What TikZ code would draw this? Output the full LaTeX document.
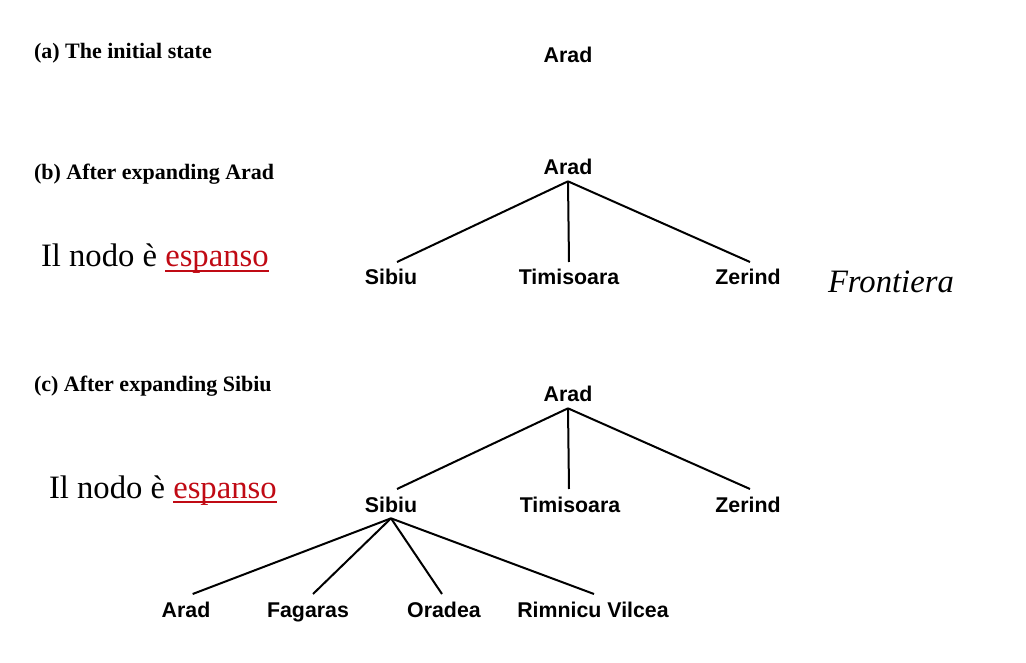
\documentclass[tikz,border=0pt]{standalone}
\usepackage{fontspec}
\setmainfont{Liberation Serif}
\setsansfont{Liberation Sans}
\definecolor{espred}{RGB}{192,10,20}
\newcommand{\espul}[1]{\setbox0\hbox{#1}\rlap{\rule[-3.6pt]{\wd0}{1pt}}\box0}
\begin{document}
\begin{tikzpicture}[x=0.75pt, y=-0.75pt, line width=1.5pt,
  city/.style={anchor=base, inner sep=4pt, text height=12.5pt, text depth=0pt,
    font=\sffamily\bfseries\fontsize{16}{18}\selectfont},
  stage/.style={anchor=base west, inner sep=0pt, font=\bfseries\fontsize{16.5}{19}\selectfont},
  note/.style={anchor=base west, inner sep=0pt, font=\fontsize{24.5}{28}\selectfont}]
\useasboundingbox (0,0) rectangle (1026,663);
% (a)
\node[stage] (la) at (33,59) {(a) The initial state};
\node[city] (a0) at (568,63) {Arad};
% (b)
\node[stage] (lb) at (33,180) {(b) After expanding Arad};
\node[note] (espb) at (40,267) {Il nodo è \textcolor{espred}{\espul{espanso}}};
\node[city] (b0) at (568,175) {Arad};
\node[city] (b1) at (391,285) {Sibiu};
\node[city] (b2) at (569,285) {Timisoara};
\node[city] (b3) at (748,285) {Zerind};
\node[note, font=\itshape\fontsize{24.5}{28}\selectfont] (front) at (827,293) {Frontiera};
\draw (b0.south) -- ([xshift=4.5pt]b1.north);
\draw (b0.south) -- (b2.north);
\draw (b0.south) -- ([xshift=1.5pt]b3.north);
% (c)
\node[stage] (lc) at (33,392) {(c) After expanding Sibiu};
\node[note] (espc) at (48,498) {Il nodo è \textcolor{espred}{\espul{espanso}}};
\node[city] (c0) at (568,402) {Arad};
\node[city] (c1) at (391,512) {Sibiu};
\node[city] (c2) at (570,512) {Timisoara};
\node[city] (c3) at (748,512) {Zerind};
\node[city] (c11) at (186,617) {Arad};
\node[city] (c12) at (308,617) {Fagaras};
\node[city] (c13) at (444,617) {Oradea};
\node[city] (c14) at (593,617) {Rimnicu Vilcea};
\draw (c0.south) -- ([xshift=4.5pt]c1.north);
\draw (c0.south) -- ([xshift=-0.75pt]c2.north);
\draw (c0.south) -- ([xshift=1.5pt]c3.north);
\draw (c1.south) -- ([xshift=5pt]c11.north);
\draw (c1.south) -- ([xshift=3.75pt]c12.north);
\draw (c1.south) -- ([xshift=-1.5pt]c13.north);
\draw (c1.south) -- ([xshift=0.75pt]c14.north);
\end{tikzpicture}
\end{document}
